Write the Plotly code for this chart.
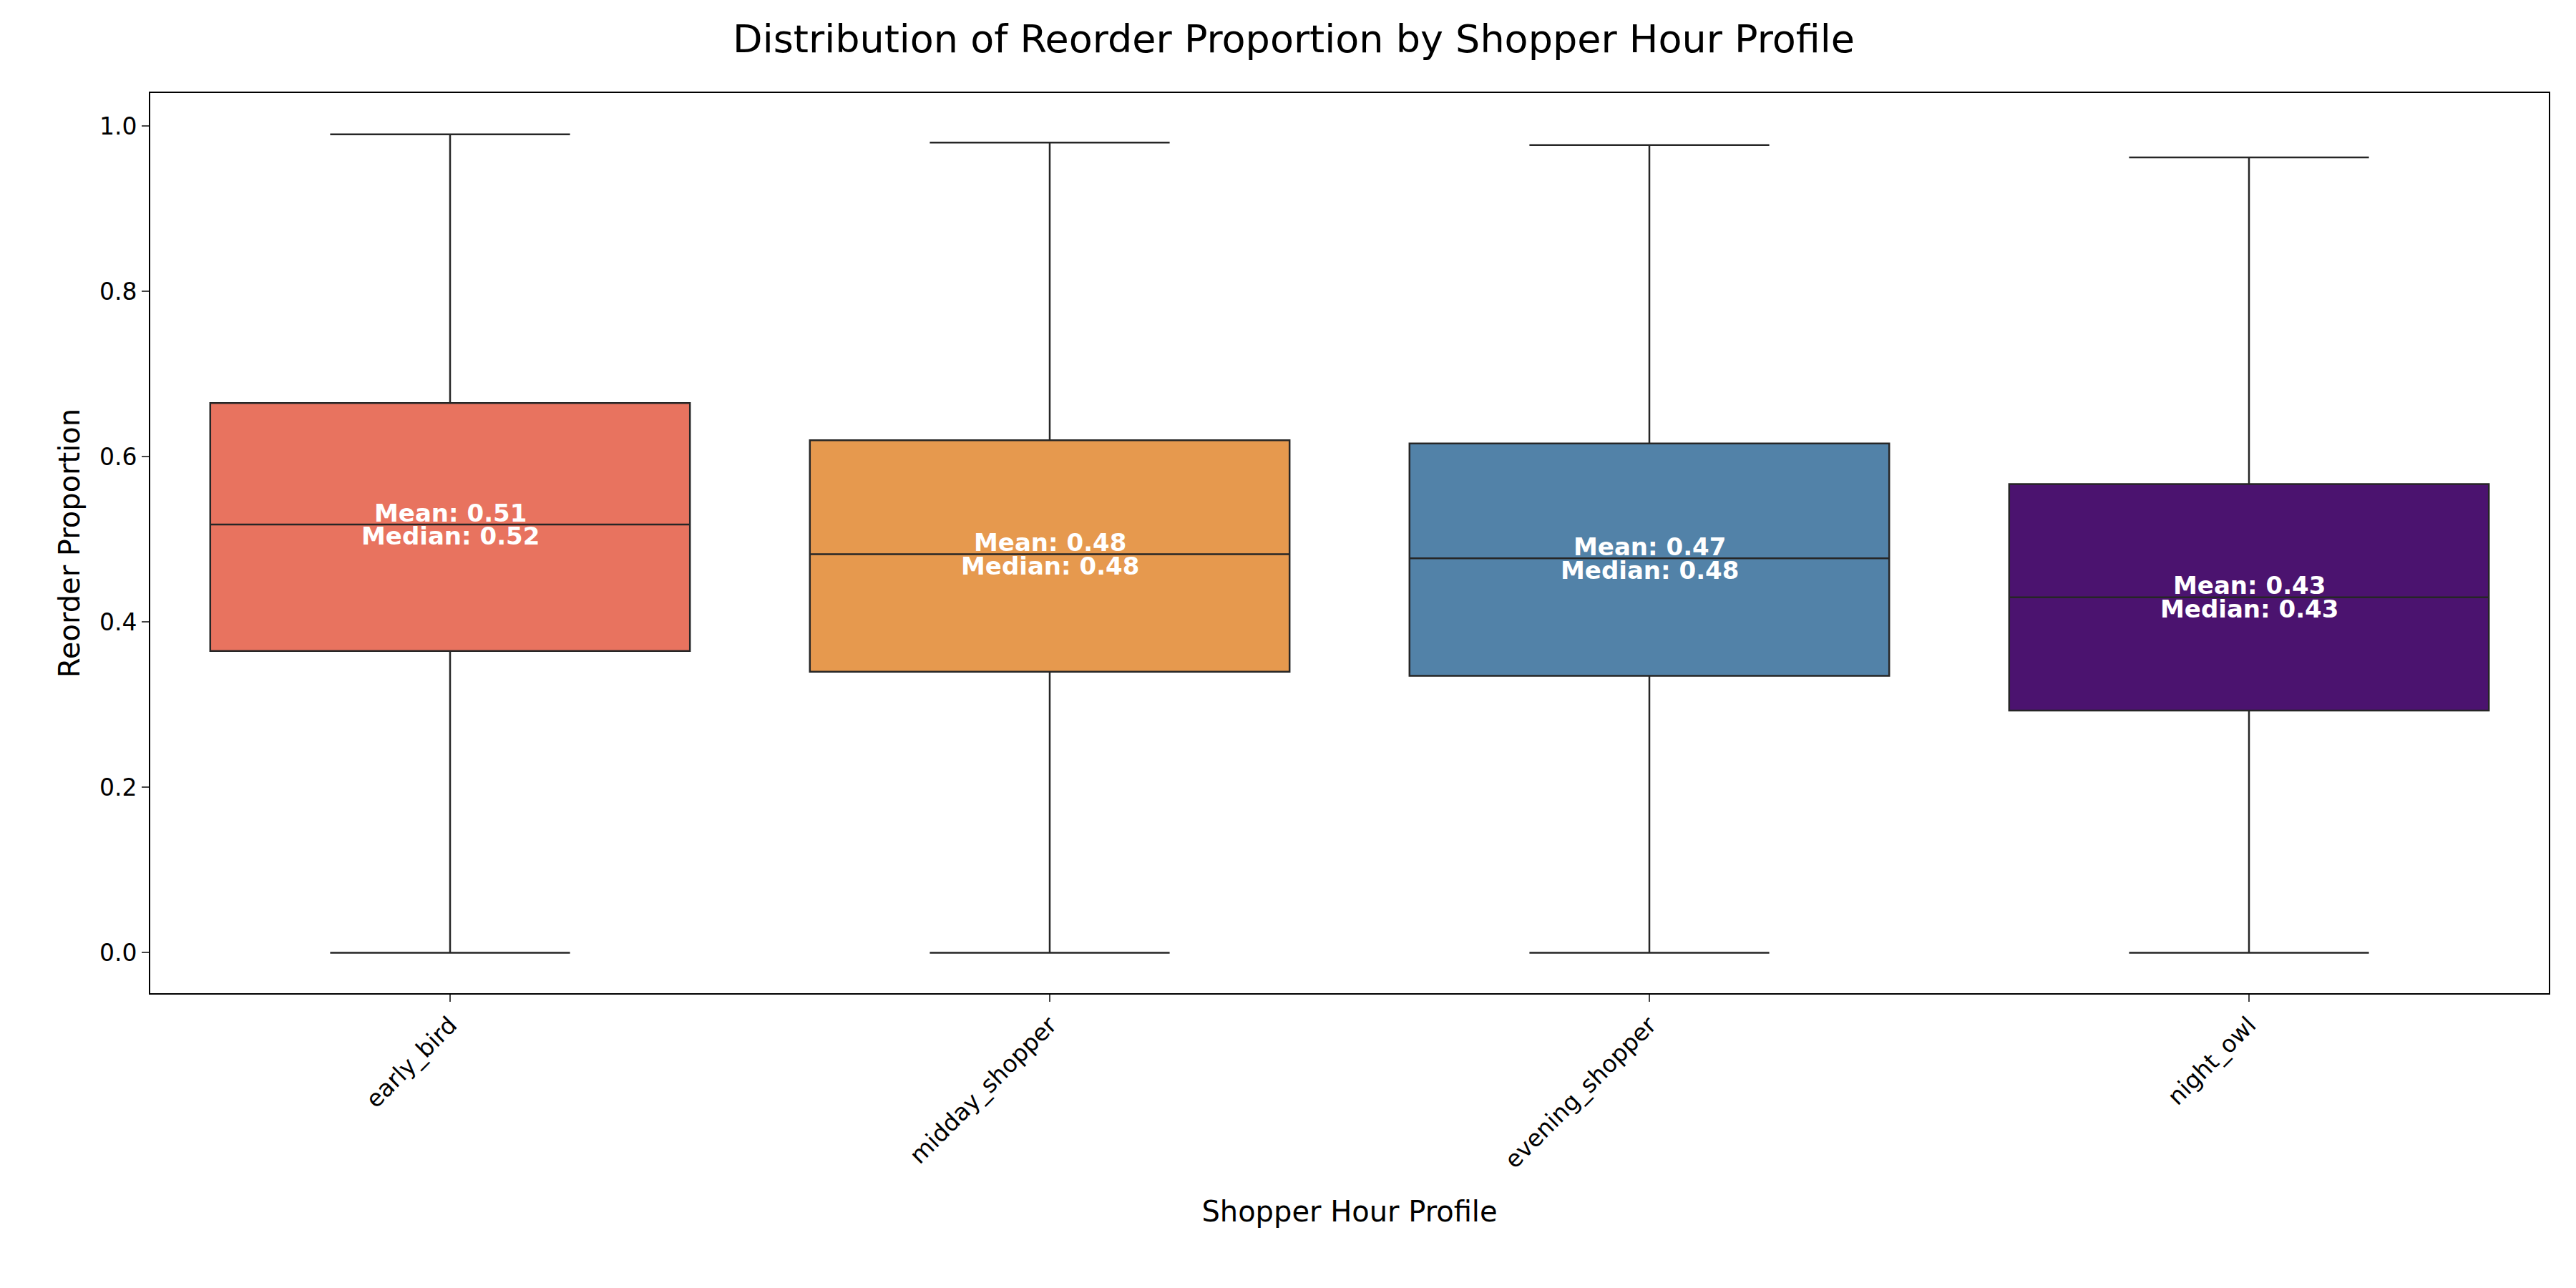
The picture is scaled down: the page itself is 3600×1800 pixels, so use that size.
import plotly.graph_objects as go

profiles = ["early_bird", "midday_shopper", "evening_shopper", "night_owl"]
mins = [0.0, 0.0, 0.0, 0.0]
q1s = [0.365, 0.340, 0.335, 0.293]
medians = [0.518, 0.482, 0.477, 0.430]
q3s = [0.665, 0.620, 0.616, 0.567]
maxs = [0.990, 0.980, 0.977, 0.962]
means = [0.51, 0.48, 0.47, 0.43]
colors = ["#E8735F", "#E6994E", "#5282A8", "#4B136F"]

fig = go.Figure()
for i, p in enumerate(profiles):
    fig.add_trace(go.Box(
        x=[p], q1=[q1s[i]], median=[medians[i]], q3=[q3s[i]],
        lowerfence=[mins[i]], upperfence=[maxs[i]],
        fillcolor=colors[i], line=dict(color="#262626", width=2.5),
        width=0.8, whiskerwidth=0.5, showlegend=False, hoverinfo="skip",
    ))
    fig.add_annotation(
        x=p, y=medians[i] + 0.014, text="<b>Mean: %.2f</b>" % means[i],
        showarrow=False, font=dict(color="white", size=34, family="DejaVu Sans"),
    )
    fig.add_annotation(
        x=p, y=medians[i] - 0.014, text="<b>Median: %.2f</b>" % medians[i],
        showarrow=False, font=dict(color="white", size=34, family="DejaVu Sans"),
    )

fig.update_layout(
    width=3600, height=1800, plot_bgcolor="white", paper_bgcolor="white",
    font=dict(family="DejaVu Sans", color="black"),
    margin=dict(l=202, r=46, t=122, b=420),
    title=dict(text="Distribution of Reorder Proportion by Shopper Hour Profile",
               x=0.5, xanchor="center", y=0.985, yanchor="top", font=dict(size=54)),
    boxmode="overlay",
)
fig.update_xaxes(title=dict(text="Shopper Hour Profile", font=dict(size=40), standoff=40),
                 tickangle=-45, tickfont=dict(size=33), showline=True, mirror=True,
                 linecolor="black", linewidth=2, ticks="outside", ticklen=10,
                 tickwidth=2, range=[-0.5, 3.5], showgrid=False)
fig.update_yaxes(title=dict(text="Reorder Proportion", font=dict(size=40)),
                 range=[-0.049, 1.04], tickvals=[0, 0.2, 0.4, 0.6, 0.8, 1.0],
                 ticktext=["0.0", "0.2", "0.4", "0.6", "0.8", "1.0"],
                 tickfont=dict(size=33), showline=True, mirror=True,
                 linecolor="black", linewidth=2, ticks="outside", ticklen=10,
                 tickwidth=2, showgrid=False, zeroline=False)

fig.write_html("out.html")
